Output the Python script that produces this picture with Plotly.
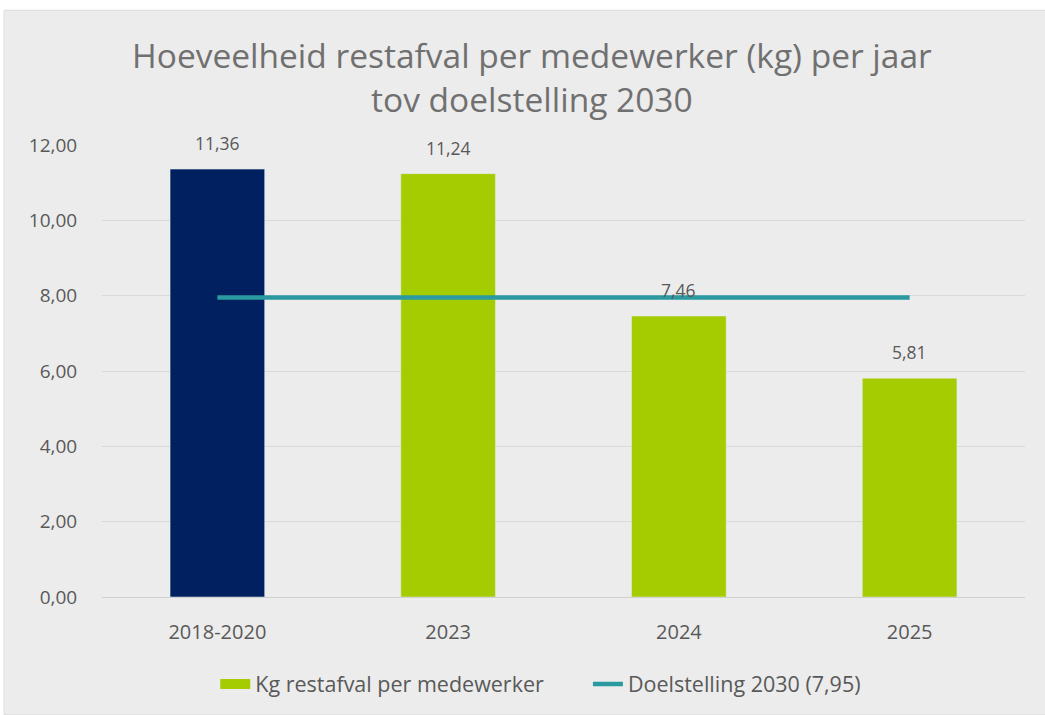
import plotly.graph_objects as go

categories = ["2018-2020", "2023", "2024", "2025"]
values = [11.36, 11.24, 7.46, 5.81]
target_value = 7.95
target_x = ["2018-2020", "2025"]
bar_name = "Kg restafval per medewerker"
line_name = "Doelstelling 2030 (7,95)"
title_text = "Hoeveelheid restafval per medewerker (kg) per jaar<br>tov doelstelling 2030"
y_ticks = [0, 2, 4, 6, 8, 10, 12]

NAVY = "#002060"
GREEN = "#a5cc00"
TEAL = "#2a9aa0"
BG = "#ececec"
TXT = "#595959"
FONT = "Open Sans"

fig = go.Figure()

fig.add_trace(go.Bar(
    x=categories[:1], y=values[:1], marker_color=NAVY, width=0.41,
    showlegend=False, hoverinfo="y"))
fig.add_trace(go.Bar(
    x=categories[1:], y=values[1:], marker_color=GREEN, width=0.41,
    showlegend=False, name=bar_name))
# legend proxy for the bars (wide swatch)
fig.add_trace(go.Scatter(
    x=[None], y=[None], mode="lines", line=dict(color=GREEN, width=17),
    name=bar_name + "\u00a0" * 7))
fig.add_trace(go.Scatter(
    x=target_x, y=[target_value] * len(target_x), mode="lines",
    line=dict(color=TEAL, width=4.5), name=line_name))

for i, v in enumerate(values):
    fig.add_annotation(x=i, y=v, text=f"{v:.2f}".replace(".", ","),
                       showarrow=False, yanchor="bottom", yshift=12,
                       font=dict(family=FONT, size=17.5, color=TXT))

fig.add_shape(type="rect", xref="paper", yref="paper",
              x0=(4 - 102) / 923.5, x1=(1046 - 102) / 923.5,
              y0=(598 - 716) / 453, y1=(598 - 10) / 453,
              fillcolor=BG, line=dict(color="#dcdcdc", width=1), layer="below")

fig.update_layout(
    width=1045, height=715,
    paper_bgcolor="white", plot_bgcolor="rgba(0,0,0,0)",
    margin=dict(l=102, r=19.5, t=145, b=117),
    barmode="overlay",
    separators=",.",
    title=dict(text=title_text, x=0.509, xanchor="center",
               y=1 - 68 / 715, yref="container", yanchor="middle",
               font=dict(family=FONT, size=33.5, color="#707070")),
    font=dict(family=FONT, color=TXT),
    xaxis=dict(type="category", categoryorder="array", categoryarray=categories,
               tickfont=dict(size=20, color=TXT), showgrid=False,
               ticks="outside", ticklen=17, tickcolor="rgba(0,0,0,0)",
               showline=False, range=[-0.5, 3.5]),
    yaxis=dict(range=[0, 12], tickvals=y_ticks, tickformat=".2f",
               tickfont=dict(size=19, color=TXT),
               gridcolor="#d9d9d9", gridwidth=1,
               zeroline=True, zerolinecolor="#d0d0d0", zerolinewidth=1,
               ticks="outside", ticklen=20, tickcolor="rgba(0,0,0,0)"),
    legend=dict(orientation="h", x=(541 - 102) / 923.5, xanchor="center",
                y=(598 - 684) / 453, yanchor="middle",
                font=dict(size=21.5, color=TXT),
                bgcolor="rgba(0,0,0,0)"),
    showlegend=True,
)

fig.write_html("out.html", config={"displayModeBar": False},
               post_script="document.body.style.margin='0';")
